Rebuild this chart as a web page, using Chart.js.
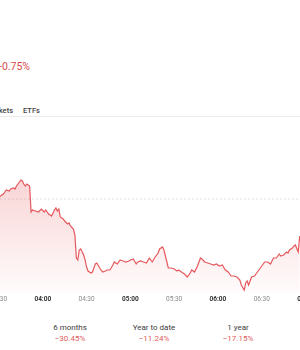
<!DOCTYPE html>
<html><head><meta charset="utf-8">
<script src="https://cdn.jsdelivr.net/npm/chart.js@4.4.0/dist/chart.umd.min.js"></script>
<style>
html,body{margin:0;padding:0;background:#fff;width:300px;height:350px;overflow:hidden;position:relative;font-family:Roboto,"Noto Sans",sans-serif;}
.abs{position:absolute;white-space:nowrap;}
#chg{left:-1px;top:60px;font-size:10.5px;color:#d64b4b;}
#tabA{right:287px;top:106px;font-size:7.5px;font-weight:500;color:#444;}
#tabB{left:23px;top:106px;font-size:7.5px;font-weight:500;color:#444;}
#rule{left:0;top:116px;width:300px;height:1px;background:#ebebeb;}
#wrap{position:absolute;left:-40px;top:120px;width:380px;height:200px;}
.stat{position:absolute;width:84px;text-align:center;top:323px;}
.stat .n{font-size:8px;color:#3c3c3c;line-height:10px;}
.stat .v{font-size:8px;color:#e05a5a;line-height:10px;margin-top:1px;}
</style></head>
<body>
<div class="abs" id="chg">-0.75%</div>
<div class="abs" id="tabA">Markets</div>
<div class="abs" id="tabB">ETFs</div>
<div class="abs" id="rule"></div>
<div id="wrap"><canvas id="c"></canvas></div>
<div id="stats"></div>
<script>
const times = [
"03:30","03:33","03:34","03:35","03:37","03:38","03:40","03:41","03:42","03:44",
"03:45","03:46","03:47","03:48","03:49","03:50","03:51","03:52","03:53","03:55",
"03:57","03:59","04:01","04:02","04:04","04:05","04:06","04:08","04:09","04:10",
"04:11","04:12","04:14","04:15","04:17","04:18","04:19","04:21","04:22","04:23",
"04:24","04:25","04:26","04:27","04:28","04:29","04:30","04:31","04:33","04:34",
"04:35","04:36","04:37","04:39","04:41","04:43","04:44","04:46","04:48","04:49",
"04:51","04:53","04:55","04:57","04:59","05:00","05:02","05:04","05:05","05:07",
"05:09","05:11","05:13","05:15","05:17","05:19","05:20","05:22","05:23","05:24",
"05:26","05:28","05:30","05:32","05:33","05:35","05:37","05:39","05:41","05:42",
"05:44","05:46","05:48","05:49","05:51","05:53","05:55","05:57","05:59","06:01",
"06:03","06:05","06:07","06:09","06:11","06:13","06:15","06:16","06:18","06:19",
"06:20","06:21","06:23","06:25","06:27","06:29","06:31","06:32","06:34","06:36",
"06:38","06:40","06:42","06:43","06:45","06:47","06:48","06:49","06:51","06:52",
"06:53","06:55","06:56"];
const prices = [
100.04,100.10,100.14,100.18,100.16,100.20,100.22,100.20,100.26,100.34,
100.38,100.36,100.30,100.26,100.30,100.28,100.26,99.74,99.78,99.76,
99.74,99.80,99.74,99.78,99.70,99.68,99.66,99.78,99.82,99.76,
99.80,99.64,99.60,99.56,99.50,99.52,99.46,99.40,99.28,98.82,
98.78,98.98,99.00,98.94,98.88,98.78,98.64,98.56,98.52,98.54,
98.62,98.70,98.72,98.62,98.54,98.56,98.58,98.58,98.68,98.74,
98.70,98.78,98.76,98.74,98.76,98.78,98.80,98.70,98.74,98.76,
98.74,98.72,98.82,98.74,98.84,98.92,99.00,99.04,98.98,98.86,
98.62,98.62,98.60,98.56,98.58,98.54,98.50,98.44,98.52,98.58,
98.54,98.66,98.82,98.80,98.74,98.72,98.70,98.68,98.70,98.66,
98.68,98.58,98.54,98.46,98.46,98.44,98.38,98.28,98.18,98.32,
98.36,98.28,98.44,98.46,98.54,98.62,98.70,98.74,98.74,98.70,
98.82,98.82,98.90,98.86,98.88,98.94,98.92,98.98,99.02,99.06,
99.08,98.94,99.26];
const previousClose = 100.00;
const tickTimes = ["03:30","04:00","04:30","05:00","05:30","06:00","06:30","07:00"];
const statNames = ["6 months","Year to date","1 year"];
const statValues = ["\u221230.45%","\u221211.24%","\u221217.15%"];

function toMin(s){const p=s.split(':').map(Number);return p[0]*60+p[1];}
function fmt(m){const h=Math.floor(m/60),mm=Math.round(m%60);return String(h).padStart(2,'0')+':'+String(mm).padStart(2,'0');}

const xMin = 183.3, xMax = 443.6;

const statsEl = document.getElementById('stats');
statNames.forEach((n,i)=>{
  const d=document.createElement('div');d.className='stat';d.style.left=(28+84*i)+'px';
  d.innerHTML='<div class="n"></div><div class="v"></div>';
  d.querySelector('.n').textContent=n;d.querySelector('.v').textContent=statValues[i];
  statsEl.appendChild(d);
});

new Chart(document.getElementById('c'), {
  type:'line',
  data:{datasets:[
    {data: times.map((t,i)=>({x:toMin(t),y:prices[i]})),
     borderColor:'#e5585c', borderWidth:1.2, pointRadius:0, tension:0, fill:'start',
     backgroundColor:(c)=>{const ch=c.chart,a=ch.chartArea;if(!a)return 'rgba(230,80,80,0.15)';
       const g=ch.ctx.createLinearGradient(0,a.top,0,a.bottom);
       g.addColorStop(0,'rgba(232,80,85,0.36)');g.addColorStop(1,'rgba(232,80,85,0.02)');return g;}},
    {data:[{x:xMin,y:previousClose},{x:xMax,y:previousClose}],
     borderColor:'#e0e0e0', borderWidth:1, borderDash:[2,2], pointRadius:0, fill:false}
  ]},
  options:{
    responsive:true, maintainAspectRatio:false, animation:false, devicePixelRatio:1,
    layout:{padding:0},
    plugins:{legend:{display:false},tooltip:{enabled:false}},
    scales:{
      x:{type:'linear', min:xMin, max:xMax,
         grid:{display:false, drawTicks:false}, border:{display:false},
         afterBuildTicks:(s)=>{s.ticks=tickTimes.map(t=>({value:toMin(t)}));},
         afterFit:(s)=>{s.height=28;},
         ticks:{autoSkip:false, maxRotation:0, padding:3,
           callback:(v)=>fmt(v),
           color:(c)=> (c.tick && c.tick.value%60===0) ? '#333' : '#8a8a8a',
           font:(c)=>({family:'Roboto', size:6.5, weight:(c.tick && c.tick.value%60===0)?'bold':'normal'})}},
      y:{display:false, min:98.14, max:101.58}
    }
  }
});
</script>
</body></html>
